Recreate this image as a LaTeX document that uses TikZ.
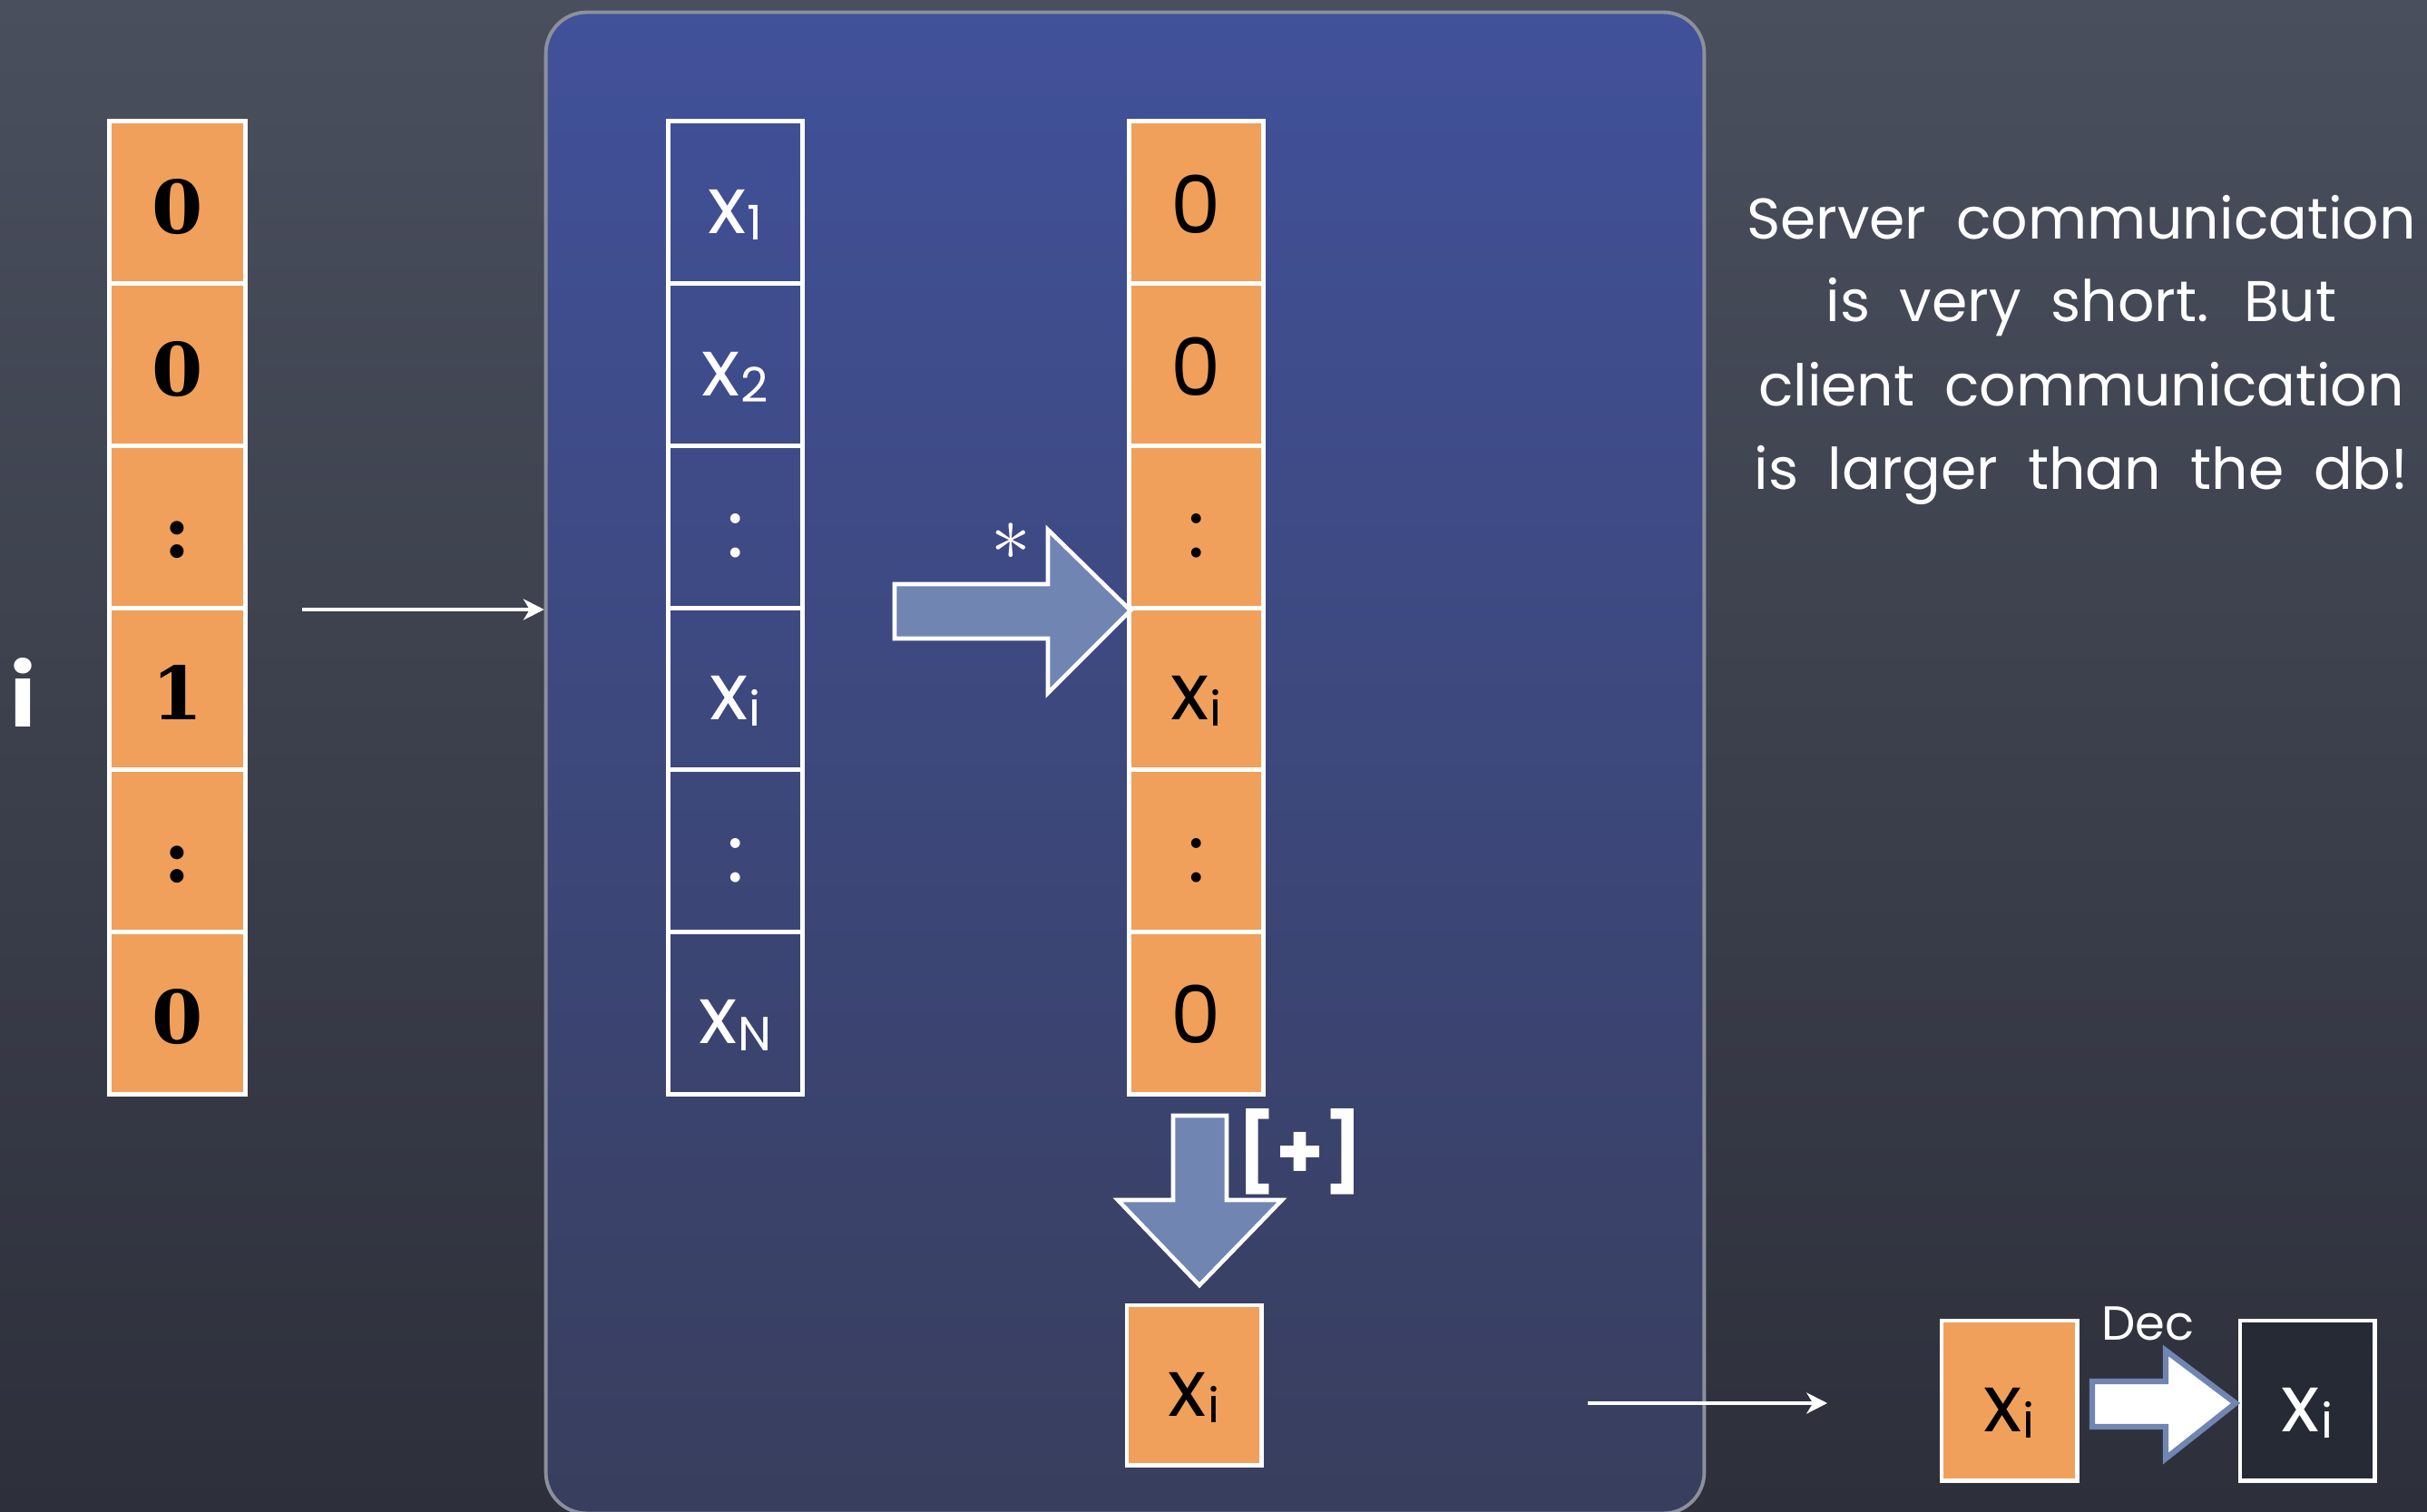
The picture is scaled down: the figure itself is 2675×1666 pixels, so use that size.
\documentclass[tikz,border=0pt]{standalone}
\usepackage{fontspec}
\setmainfont{Poppins}
\newfontfamily\digitfont{DejaVu Serif}
\usetikzlibrary{arrows.meta}
\definecolor{bgtop}{HTML}{4A4F5D}
\definecolor{bgbot}{HTML}{2D303B}
\definecolor{paneltop}{HTML}{41519A}
\definecolor{panelbot}{HTML}{383E5D}
\definecolor{panelborder}{HTML}{8C909C}
\definecolor{orng}{HTML}{F0A05A}
\definecolor{steel}{HTML}{7085B2}
\definecolor{darkbox}{HTML}{262A35}
\newcommand{\xsub}[1]{x\kern0.3pt\raisebox{-2pt}{\fontsize{15}{15}\selectfont #1}}
\begin{document}
\begin{tikzpicture}[x=0.01cm,y=-0.01cm,
  cell/.style={draw=white, line width=1.4pt, minimum width=1.48cm, minimum height=1.787cm,
    inner sep=0pt, outer sep=0pt, text height=19.4pt, text depth=0pt,
    font=\fontsize{25}{25}\selectfont},
  ocell/.style={cell, fill=orng, text=black},
  bcell/.style={cell, text=white},
  lcell/.style={cell, fill=orng, text=black, minimum width=1.49cm,
    font=\digitfont\bfseries\fontsize{23}{23}\selectfont},
  thinarrow/.style={draw=white, line width=0.9pt, -{Stealth[length=6.5pt,width=6.6pt,inset=2pt]}},
  blockarrow/.style={fill=steel, draw=white, line width=1.3pt, line join=miter},
  decarrow/.style={fill=white, draw=steel, line width=1.8pt, line join=miter},
  note/.style={text=white, font=\fontsize{18}{18}\selectfont, anchor=base, inner sep=0pt,
    execute at begin node={\spaceskip=9.3pt\relax}}
]
\useasboundingbox (0,0) rectangle (2675,1666);
\shade[top color=bgtop, bottom color=bgbot] (0,0) rectangle (2675,1666);

% server panel
\node[draw=panelborder, line width=1.1pt, rounded corners=0.45cm,
  top color=paneltop, bottom color=panelbot,
  minimum width=12.76cm, minimum height=16.54cm, inner sep=0pt] (panel) at (1240,841) {};

% query vector
\foreach \t [count=\k] in {0,0,:,1,:,0}
  \node[lcell] (l\k) at (195.5,{134+178.7*(\k-0.5)}) {\t};
\node[text=white, inner sep=0pt, font=\bfseries\fontsize{27}{27}\selectfont] (ilab) at (26,763) {i};

% database
\foreach \t [count=\k] in {\xsub{1},\xsub{2},:,\xsub{i},:,\xsub{N}}
  \node[bcell] (d\k) at (810.5,{134+178.7*(\k-0.5)}) {\t};

% product
\foreach \t [count=\k] in {0,0,:,\xsub{i},:,0}
  \node[ocell] (p\k) at (1318.5,{134+178.7*(\k-0.5)}) {\t};

% result
\node[ocell, minimum height=1.76cm] (res) at (1316,1527) {\xsub{i}};

% client side
\node[ocell, minimum width=1.49cm, minimum height=1.76cm] (c1) at (2214.5,1544) {\xsub{i}};
\node[bcell, fill=darkbox, minimum height=1.76cm] (c2) at (2543,1544) {\xsub{i}};

% thin arrows
\coordinate (a1) at (333,672);
\draw[thinarrow] (a1) -- (a1 -| panel.west);
\coordinate (a2s) at (1750,1547);
\coordinate (a2e) at (2014,1547);
\draw[thinarrow] (a2s) -- (a2e);

% block arrow "*"
\draw[blockarrow] (986,644) -- (1155,644) -- (1155,584) -- (1246,673) -- (1155,764)
  -- (1155,704) -- (986,704) -- cycle;
\node[text=white, inner sep=0pt, font=\fontsize{24.88}{25}\selectfont] (star) at (1114,597) {$\ast$};

% block arrow "[+]"
\draw[blockarrow] (1293,1230) -- (1352,1230) -- (1352,1323) -- (1413,1323) -- (1322,1417)
  -- (1232,1323) -- (1293,1323) -- cycle;
\node[text=white, inner sep=0pt, font=\bfseries\fontsize{24}{24}\selectfont] (plus) at (1433,1270) {[+]};

% Dec arrow
\draw[decarrow] (2306,1523) -- (2387,1523) -- (2387,1489) -- (2464,1547) -- (2387,1608)
  -- (2387,1573) -- (2306,1573) -- cycle;
\node[text=white, inner sep=0pt, anchor=base, font=\fontsize{15}{15}\selectfont] (dec) at (2367,1477) {Dec};

% note
\node[note] (t1) at (2294,263) {Server communication};
\node[note] (t2) at (2294,354) {is very short. But};
\node[note] (t3) at (2294,447) {client communication};
\node[note] (t4) at (2294,539) {is larger than the db!};
\end{tikzpicture}
\end{document}
